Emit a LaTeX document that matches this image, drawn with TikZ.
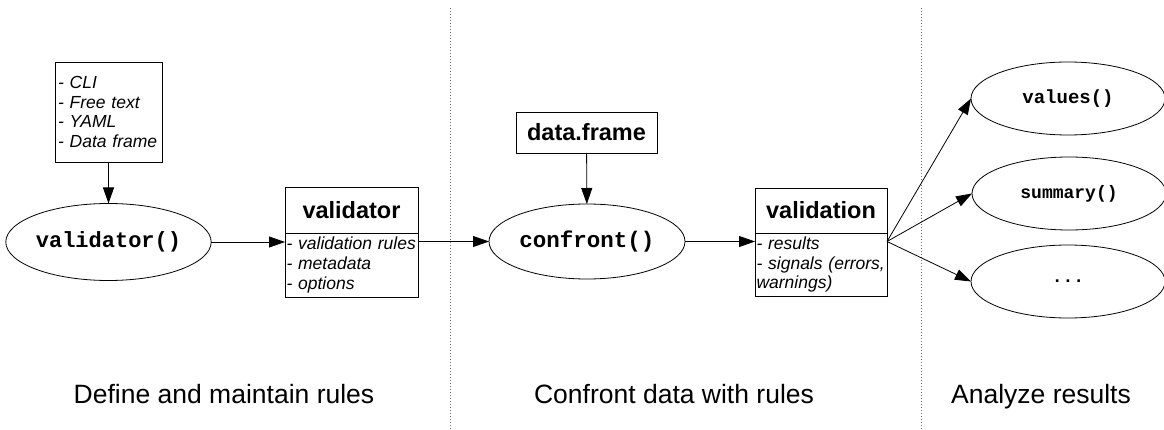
\documentclass[tikz,border=0pt]{standalone}
\usepackage{fontspec}
\setmainfont{Liberation Sans}
\setmonofont{Liberation Mono}
\usetikzlibrary{arrows.meta,calc,shapes.geometric}
\begin{document}
\begin{tikzpicture}[x=1pt,y=-1pt,
  every node/.style={inner sep=0pt, outer sep=0pt},
  boxline/.style={draw=black, line width=0.8pt},
  conn/.style={line width=0.8pt, -{Triangle[length=16pt,width=11pt]}},
  fn/.style={boxline, ellipse, font=\ttfamily\bfseries\fontsize{22}{24}\selectfont},
  fnsmall/.style={boxline, ellipse, minimum width=194pt, minimum height=73pt, font=\ttfamily\bfseries\fontsize{19}{20}\selectfont},
  titlebox/.style={boxline, font=\bfseries\fontsize{23.5}{26}\selectfont},
  bodybox/.style={boxline, align=left, font=\itshape\fontsize{17.5}{19.8}\selectfont},
  sep/.style={draw=black!55, line width=1pt, dash pattern=on 1.2pt off 1.8pt},
  lbl/.style={anchor=base, font=\fontsize{26.5}{28}\selectfont}]
\useasboundingbox (0,0) rectangle (1164,430);
\fill[white] (0,0) rectangle (1164,430);

% separators
\draw[sep] (450,8) -- (450,430);
\draw[sep] (921,8) -- (921,430);

% section 1
\node[bodybox, minimum width=107pt, minimum height=100pt, text width=101pt] (inp) at (108.5,112)
  {- CLI\\- Free text\\- YAML\\- Data frame};
\node[fn, minimum width=193pt, minimum height=77pt] (vfun) at (108.5,242) {validator()};
\node[titlebox, minimum width=133pt, minimum height=46pt] (vtit) at (351.5,210) {validator};
\node[bodybox, minimum width=133pt, minimum height=64pt, text width=130pt, anchor=north] (vbod) at (vtit.south)
  {- validation rules\\- metadata\\- options};

% section 2
\node[titlebox, minimum width=141pt, minimum height=41pt] (df) at (586.5,132.5) {data.frame};
\node[fn, minimum width=196pt, minimum height=75pt, font=\ttfamily\bfseries\fontsize{22.5}{24}\selectfont] (cfun) at (587,241.5) {confront()};
\node[titlebox, minimum width=132pt, minimum height=45pt] (vntit) at (821,210.5) {validation};
\node[bodybox, minimum width=132pt, minimum height=63pt, text width=129pt, anchor=north] (vnbod) at (vntit.south)
  {- results\\- signals (errors,\\warnings)};

% section 3
\node[fnsmall] (vals) at (1068,98.5) {values()};
\node[fnsmall, font=\ttfamily\bfseries\fontsize{18}{20}\selectfont] (summ) at (1069,193.5) {summary()};
\node[fnsmall, font=\ttfamily\bfseries\fontsize{18}{20}\selectfont] (more) at (1068,281.5) {...};
\coordinate (fan) at (vnbod.east |- cfun.east);

% connectors
\draw[conn] (inp) -- (vfun);
\draw[conn] (vfun.east) -- (vfun.east -| vbod.west);
\draw[conn] (cfun.west -| vbod.east) -- (cfun.west);
\draw[conn] (df) -- (cfun);
\draw[conn] (cfun.east) -- (cfun.east -| vnbod.west);
\draw[conn] (fan) -- (vals.west);
\draw[conn] (fan) -- (summ.west);
\draw[conn] (fan) -- (more.west);

% labels
\node[lbl] (l1) at (224,403) {Define and maintain rules};
\node[lbl] (l2) at (674,403) {Confront data with rules};
\node[lbl] (l3) at (1041,403) {Analyze results};
\end{tikzpicture}
\end{document}
